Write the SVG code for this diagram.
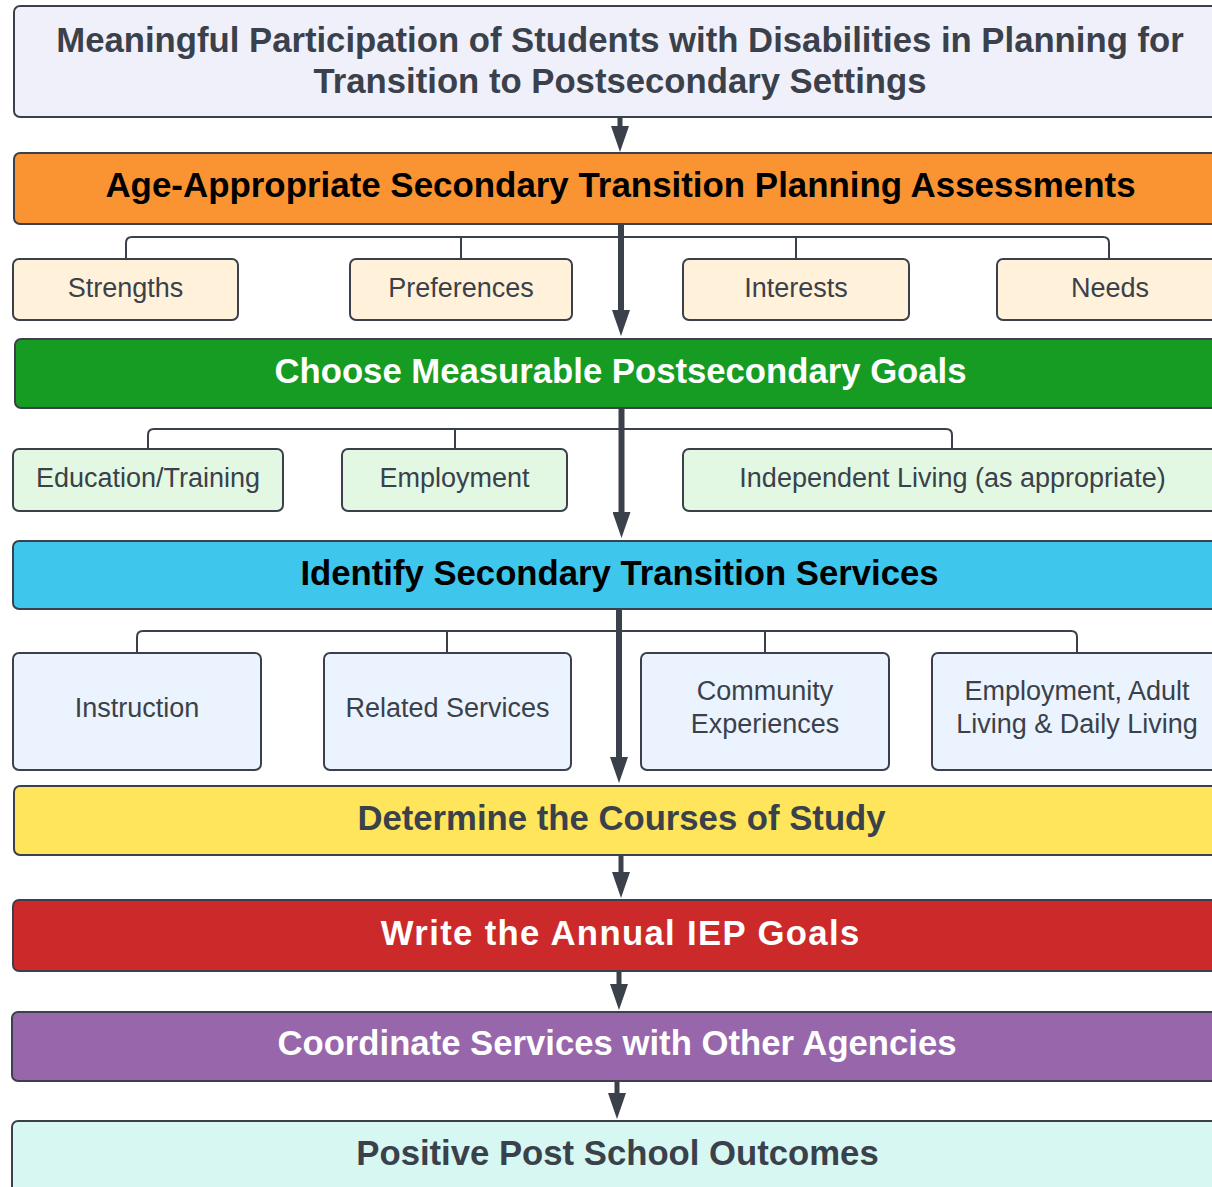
<svg xmlns="http://www.w3.org/2000/svg" width="1212" height="1187" viewBox="0 0 1212 1187">
<style>
.box{stroke:#3a414a;stroke-width:2}
.big{font-family:"Liberation Sans",Arial,sans-serif;font-weight:bold;font-size:34.7px;text-anchor:middle}
.sm{font-family:"Liberation Sans",Arial,sans-serif;font-size:27px;text-anchor:middle;fill:#3a414a}
.conn{fill:none;stroke:#3a414a;stroke-width:2}
.arr{stroke:#3a414a;stroke-width:5;fill:none}
.trunk{stroke:#3a414a;stroke-width:6;fill:none}
.cream{fill:#fff1da}
.lgreen{fill:#e2f8e3}
.lblue{fill:#ebf3fe}
</style>
<defs>
<marker id="ah" markerUnits="userSpaceOnUse" markerWidth="26" markerHeight="18" viewBox="0 0 26 18" refX="1" refY="9" orient="auto">
<path d="M0,0 L26,9 L0,18 z" fill="#3a414a"/>
</marker>
</defs>
<rect width="1212" height="1187" fill="#ffffff"/>

<g id="connectors">
<path class="conn" d="M126,259 V243 Q126,237 132,237 H1103 Q1109,237 1109,243 V259 M461,237 V259 M796,237 V259"/>
<path class="conn" d="M148,449 V435 Q148,429 154,429 H946 Q952,429 952,435 V449 M455,429 V449"/>
<path class="conn" d="M137,653 V637 Q137,631 143,631 H1071 Q1077,631 1077,637 V653 M447,631 V653 M765,631 V653"/>
<line class="arr" x1="620" y1="117" x2="620" y2="127" marker-end="url(#ah)"/>
<line class="trunk" x1="621" y1="224" x2="621" y2="311" marker-end="url(#ah)"/>
<line class="trunk" x1="621.5" y1="408" x2="621.5" y2="513" marker-end="url(#ah)"/>
<line class="trunk" x1="619" y1="609" x2="619" y2="758" marker-end="url(#ah)"/>
<line class="arr" x1="621" y1="855" x2="621" y2="873" marker-end="url(#ah)"/>
<line class="arr" x1="619" y1="971" x2="619" y2="985" marker-end="url(#ah)"/>
<line class="arr" x1="617" y1="1081" x2="617" y2="1094" marker-end="url(#ah)"/>
</g>

<g id="title">
<rect class="box" x="14" y="6" width="1230" height="111" rx="6" fill="#f0f0fb"/>
<text class="big" fill="#3a414a"><tspan x="620" y="52">Meaningful Participation of Students with Disabilities in Planning for</tspan><tspan x="620" y="93">Transition to Postsecondary Settings</tspan></text>
</g>

<g id="assessments">
<rect class="box" x="14" y="153" width="1230" height="71" rx="6" fill="#fa9332"/>
<text class="big" x="620.5" y="197" fill="#000000" style="font-size:34.9px">Age-Appropriate Secondary Transition Planning Assessments</text>
</g>

<g id="strengths">
<rect class="box cream" x="13" y="259" width="225" height="61" rx="6"/>
<text class="sm" x="125.5" y="297">Strengths</text>
</g>
<g id="preferences">
<rect class="box cream" x="350" y="259" width="222" height="61" rx="6"/>
<text class="sm" x="461" y="297">Preferences</text>
</g>
<g id="interests">
<rect class="box cream" x="683" y="259" width="226" height="61" rx="6"/>
<text class="sm" x="796" y="297">Interests</text>
</g>
<g id="needs">
<rect class="box cream" x="997" y="259" width="226" height="61" rx="6"/>
<text class="sm" x="1110" y="297">Needs</text>
</g>

<g id="goals">
<rect class="box" x="15" y="339" width="1230" height="69" rx="6" fill="#169c22"/>
<text class="big" x="620.5" y="383" fill="#ffffff">Choose Measurable Postsecondary Goals</text>
</g>

<g id="education">
<rect class="box lgreen" x="13" y="449" width="270" height="62" rx="6"/>
<text class="sm" x="148" y="487">Education/Training</text>
</g>
<g id="employment">
<rect class="box lgreen" x="342" y="449" width="225" height="62" rx="6"/>
<text class="sm" x="454.5" y="487">Employment</text>
</g>
<g id="independent">
<rect class="box lgreen" x="683" y="449" width="540" height="62" rx="6"/>
<text class="sm" x="952.5" y="487">Independent Living (as appropriate)</text>
</g>

<g id="services">
<rect class="box" x="13" y="541" width="1230" height="68" rx="6" fill="#3ec6ec"/>
<text class="big" x="619.5" y="585" fill="#000000">Identify Secondary Transition Services</text>
</g>

<g id="instruction">
<rect class="box lblue" x="13" y="653" width="248" height="117" rx="6"/>
<text class="sm" x="137" y="717">Instruction</text>
</g>
<g id="related">
<rect class="box lblue" x="324" y="653" width="247" height="117" rx="6"/>
<text class="sm" x="447.5" y="717">Related Services</text>
</g>
<g id="community">
<rect class="box lblue" x="641" y="653" width="248" height="117" rx="6"/>
<text class="sm"><tspan x="765" y="700">Community</tspan><tspan x="765" y="733">Experiences</tspan></text>
</g>
<g id="adult">
<rect class="box lblue" x="932" y="653" width="290" height="117" rx="6"/>
<text class="sm"><tspan x="1077" y="700">Employment, Adult</tspan><tspan x="1077" y="733">Living &amp; Daily Living</tspan></text>
</g>

<g id="courses">
<rect class="box" x="14" y="786" width="1230" height="69" rx="6" fill="#fee55b"/>
<text class="big" x="621.5" y="830" fill="#3a414a">Determine the Courses of Study</text>
</g>

<g id="iep">
<rect class="box" x="13" y="900" width="1230" height="71" rx="6" fill="#cc2a2a"/>
<text class="big" x="620.7" y="945" fill="#ffffff" letter-spacing="1.35">Write the Annual IEP Goals</text>
</g>

<g id="coordinate">
<rect class="box" x="12" y="1012" width="1230" height="69" rx="6" fill="#9866ab"/>
<text class="big" x="617" y="1055" fill="#ffffff">Coordinate Services with Other Agencies</text>
</g>

<g id="outcomes">
<rect class="box" x="12" y="1121" width="1230" height="100" rx="6" fill="#d7f7f2"/>
<text class="big" x="617.5" y="1165" fill="#3a414a">Positive Post School Outcomes</text>
</g>
</svg>
